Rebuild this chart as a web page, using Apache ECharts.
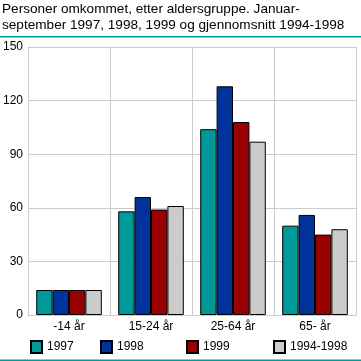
<!DOCTYPE html>
<html><head><meta charset="utf-8">
<script src="https://cdn.jsdelivr.net/npm/echarts@6/dist/echarts.min.js"></script>
<style>html,body{margin:0;padding:0;background:#fff}#c{width:361px;height:361px}</style>
</head><body><div id="c"></div>
<script>
const categories = ['-14 år', '15-24 år', '25-64 år', '65- år'];
const seriesNames = ['1997', '1998', '1999', '1994-1998'];
const v1997 = [14, 58, 104, 50];
const v1998 = [14, 66, 128, 56];
const v1999 = [14, 59, 108, 45];
const vAvg = [14, 61, 97, 48];
const yTicks = [0, 30, 60, 90, 120, 150];
const colors = ['#009999', '#003399', '#990000', '#cccccc'];
const allValues = [v1997, v1998, v1999, vAvg];
const FONT = 'Liberation Sans';
const chart = echarts.init(document.getElementById('c'));
const legendLefts = [30, 100, 186, 273];
chart.setOption({
  animation: false,
  textStyle: {fontFamily: FONT},
  title: {
    text: 'Personer omkommet, etter aldersgruppe. Januar-\nseptember 1997, 1998, 1999 og gjennomsnitt 1994-1998',
    left: 2, top: 1, padding: 0,
    textStyle: {fontFamily: FONT, fontSize: 13.6, fontWeight: 'normal', color: '#000', lineHeight: 16}
  },
  legend: seriesNames.map((n, i) => ({
    data: [n], left: legendLefts[i], top: 340, itemWidth: 11, itemHeight: 12, itemGap: 4,
    textStyle: {fontFamily: FONT, fontSize: 12, color: '#000', padding: [0, 0, 0, 0]},
    icon: 'rect', selectedMode: false, padding: 0
  })),
  grid: {left: 25, right: 5, top: 47, bottom: 46, containLabel: false},
  xAxis: {
    type: 'category', data: categories,
    axisLine: {show: true, lineStyle: {color: '#cccccc'}},
    axisTick: {show: false},
    splitLine: {show: true, lineStyle: {color: '#cccccc'}},
    axisLabel: {fontFamily: FONT, fontSize: 12, color: '#000', margin: 6}
  },
  yAxis: {
    type: 'value', min: 0, max: 150, interval: 30,
    axisLine: {show: true, lineStyle: {color: '#cccccc'}},
    axisTick: {show: false},
    splitLine: {show: true, lineStyle: {color: '#cccccc'}},
    axisLabel: {fontFamily: FONT, fontSize: 12, color: '#000', margin: 5,
      formatter: v => yTicks.includes(v) ? String(v) : ''}
  },
  series: seriesNames.map((n, i) => ({
    name: n, type: 'bar', data: allValues[i], barGap: '0%', barCategoryGap: '20%',
    itemStyle: {color: colors[i], borderColor: '#000', borderWidth: 1}
  })),
  graphic: [
    {type: 'rect', shape: {x: 0, y: 36, width: 361, height: 1.5}, style: {fill: '#009999'}},
    {type: 'rect', shape: {x: 0, y: 359.5, width: 361, height: 1.5}, style: {fill: '#009999'}}
  ]
});
</script></body></html>
